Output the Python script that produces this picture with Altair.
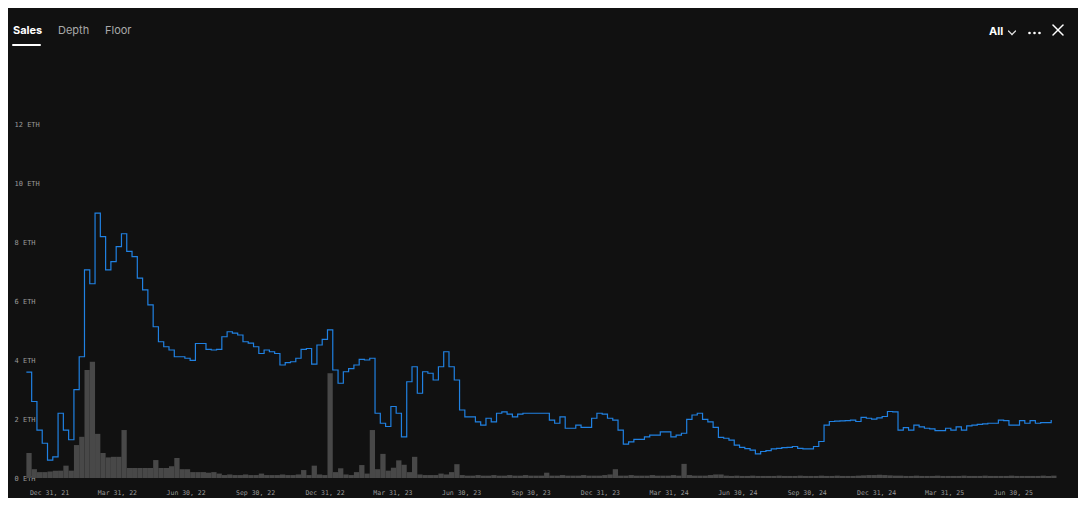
import altair as alt
import pandas as pd

# ---------------- data (weekly samples) ----------------
week_start = "2021-12-01"

price_eth = [
    3.6, 2.6, 1.63, 1.18, 0.61, 0.72, 2.2, 1.63, 1.3, 3.0,
    4.12, 7.07, 6.6, 9.0, 8.2, 7.07, 7.35, 7.86, 8.3, 7.7,
    7.52, 6.79, 6.39, 5.88, 5.14, 4.63, 4.46, 4.35, 4.12, 4.12,
    4.07, 4.0, 4.57, 4.57, 4.37, 4.35, 4.37, 4.8, 4.97, 4.92,
    4.86, 4.63, 4.58, 4.46, 4.23, 4.35, 4.29, 4.23, 3.84, 3.92,
    3.95, 4.07, 4.37, 4.4, 3.87, 4.52, 4.71, 5.03, 3.67, 3.22,
    3.61, 3.72, 3.84, 4.03, 4.01, 4.07, 2.2, 1.86, 1.75, 2.43,
    2.2, 1.4, 3.27, 3.78, 2.88, 3.61, 3.56, 3.33, 3.78, 4.29,
    3.78, 3.33, 2.31, 2.08, 2.08, 1.91, 1.8, 2.03, 1.91, 2.2,
    2.25, 2.17, 2.08, 2.17, 2.2, 2.2, 2.2, 2.2, 2.2, 1.97,
    1.86, 2.08, 1.69, 1.69, 1.8, 1.72, 1.72, 2.03, 2.2, 2.17,
    2.03, 1.97, 1.63, 1.15, 1.23, 1.31, 1.31, 1.4, 1.46, 1.46,
    1.57, 1.57, 1.4, 1.46, 1.52, 1.99, 2.14, 2.2, 1.99, 1.91,
    1.72, 1.38, 1.35, 1.29, 1.12, 1.04, 1.0, 0.95, 0.82, 0.9,
    0.93, 0.99, 1.01, 1.03, 1.04, 1.07, 1.01, 0.99, 0.99, 1.07,
    1.24, 1.8, 1.92, 1.93, 1.94, 1.95, 1.97, 1.92, 2.06, 2.03,
    2.0, 2.04, 2.09, 2.26, 2.25, 1.63, 1.71, 1.63, 1.8, 1.74,
    1.69, 1.67, 1.61, 1.61, 1.69, 1.63, 1.74, 1.63, 1.77, 1.8,
    1.82, 1.84, 1.86, 1.86, 1.97, 1.95, 1.8, 1.8, 1.95, 1.86,
    1.95, 1.86, 1.88, 1.88, 1.97,
]

volume_eth = [
    0.85, 0.3, 0.2, 0.2, 0.22, 0.25, 0.25, 0.42, 0.25, 1.12,
    1.4, 3.67, 3.95, 1.5, 0.85, 0.7, 0.72, 0.72, 1.63, 0.34,
    0.34, 0.34, 0.34, 0.34, 0.61, 0.34, 0.34, 0.4, 0.68, 0.3,
    0.3, 0.2, 0.2, 0.2, 0.18, 0.2, 0.15, 0.1, 0.12, 0.1,
    0.1, 0.12, 0.1, 0.1, 0.15, 0.1, 0.1, 0.1, 0.12, 0.1,
    0.1, 0.12, 0.27, 0.1, 0.42, 0.12, 0.1, 3.56, 0.2, 0.33,
    0.12, 0.1, 0.2, 0.44, 0.15, 1.63, 0.3, 0.82, 0.25, 0.35,
    0.6, 0.45, 0.2, 0.72, 0.12, 0.1, 0.1, 0.1, 0.15, 0.12,
    0.2, 0.47, 0.1, 0.08, 0.08, 0.1, 0.08, 0.08, 0.1, 0.08,
    0.08, 0.1, 0.08, 0.08, 0.1, 0.08, 0.08, 0.08, 0.18, 0.08,
    0.08, 0.1, 0.08, 0.08, 0.08, 0.1, 0.08, 0.08, 0.08, 0.1,
    0.12, 0.3, 0.08, 0.08, 0.1, 0.08, 0.08, 0.08, 0.1, 0.08,
    0.08, 0.08, 0.1, 0.08, 0.48, 0.1, 0.08, 0.08, 0.08, 0.1,
    0.12, 0.12, 0.08, 0.07, 0.08, 0.07, 0.07, 0.08, 0.07, 0.07,
    0.07, 0.07, 0.08, 0.07, 0.07, 0.07, 0.08, 0.07, 0.07, 0.07,
    0.08, 0.07, 0.07, 0.08, 0.07, 0.07, 0.07, 0.08, 0.09, 0.1,
    0.1, 0.11, 0.1, 0.09, 0.08, 0.08, 0.07, 0.07, 0.08, 0.07,
    0.07, 0.07, 0.08, 0.07, 0.07, 0.07, 0.07, 0.08, 0.07, 0.07,
    0.07, 0.08, 0.07, 0.07, 0.07, 0.07, 0.08, 0.07, 0.07, 0.07,
    0.07, 0.07, 0.08, 0.07, 0.08,
]

tick_dates = [
    "2021-12-31", "2022-03-31", "2022-06-30", "2022-09-30",
    "2022-12-31", "2023-03-31", "2023-06-30", "2023-09-30",
    "2023-12-31", "2024-03-31", "2024-06-30", "2024-09-30",
    "2024-12-31", "2025-03-31", "2025-06-30",
]
y_ticks = [0, 2, 4, 6, 8, 10, 12]
tabs = ["Sales", "Depth", "Floor"]
range_label = "All"

assert len(price_eth) == len(volume_eth)

dates = pd.date_range(week_start, periods=len(price_eth), freq="7D")
df = pd.DataFrame({
    "date": dates.strftime("%Y-%m-%d"),
    "date_end": (dates + pd.Timedelta(days=7)).strftime("%Y-%m-%d"),
    "price": price_eth,
    "volume": volume_eth,
})


def dt(s):
    return alt.DateTime(year=int(s[:4]), month=int(s[5:7]), date=int(s[8:10]))


x_scale = alt.Scale(domain=[alt.DateTime(year=2021, month=11, date=30, hours=12),
                            alt.DateTime(year=2025, month=8, date=29)])
y_scale = alt.Scale(domain=[0, 14], nice=False, zero=True)

x_axis = alt.Axis(values=[dt(s) for s in tick_dates], format="%b %d, %y",
                  labelFont="DejaVu Sans Mono", labelFontSize=6.5, labelColor="#9a9a9a",
                  domain=False, ticks=False, grid=False, labelPadding=11, title=None,
                  labelOverlap=False, zindex=0)
y_axis = alt.Axis(values=y_ticks, labelExpr="datum.value + ' ETH'", labelAlign="left",
                  labelBaseline="middle", labelFlush=False,
                  labelFont="DejaVu Sans Mono", labelFontSize=7, labelColor="#9a9a9a",
                  domain=False, ticks=False, tickSize=0, grid=False, labelPadding=12,
                  title=None, zindex=0)

base = alt.Chart(df)

bars = base.mark_bar(color="#484848").encode(
    x=alt.X("date:T", scale=x_scale, axis=x_axis),
    x2="date_end:T",
    y=alt.Y("volume:Q", scale=y_scale, axis=y_axis),
    y2=alt.datum(0),
)

line = base.mark_line(color="#2081e2", strokeWidth=1.2, interpolate="step-after").encode(
    x=alt.X("date:T", scale=x_scale),
    y=alt.Y("price:Q", scale=y_scale),
)

one = pd.DataFrame({"k": [0]})


def text_mark(txt, x, y, color, weight, size=11):
    return alt.Chart(one).mark_text(
        text=txt, align="left", baseline="middle", font="Inter",
        fontSize=size, fontWeight=weight, color=color,
    ).encode(x=alt.value(x), y=alt.value(y))


def seg(x1, y1, x2, y2, w=1.5, color="#ffffff"):
    return alt.Chart(one).mark_rule(color=color, strokeWidth=w, strokeCap="round").encode(
        x=alt.value(x1), y=alt.value(y1), x2=alt.value(x2), y2=alt.value(y2))


def dot(x, y):
    return alt.Chart(one).mark_circle(color="#ffffff", size=7, opacity=1).encode(
        x=alt.value(x), y=alt.value(y))


header = [
    text_mark(tabs[0], -13, -35, "#ffffff", "bold"),
    text_mark(tabs[1], 32, -35, "#a9a9a9", "normal"),
    text_mark(tabs[2], 79, -35, "#a9a9a9", "normal"),
    seg(-13, -21, 14, -21, w=2),
    text_mark(range_label, 963, -34, "#ffffff", "bold"),
    seg(982.5, -35, 986, -31.5, w=1.2, color="#dddddd"),
    seg(986, -31.5, 989.5, -35, w=1.2, color="#dddddd"),
    dot(1003.5, -33), dot(1008.5, -33), dot(1013.5, -33),
    seg(1027, -41, 1037, -31),
    seg(1037, -41, 1027, -31),
]

chart = alt.layer(bars, line, *header).properties(
    width=1032, height=412,
    padding={"left": 18, "top": 58, "right": 20, "bottom": 20},
    autosize=alt.AutoSizeParams(type="none"),
    background="#111111",
).configure_view(strokeWidth=0)

chart.save("out.html", embed_options={"renderer": "svg", "actions": False})
